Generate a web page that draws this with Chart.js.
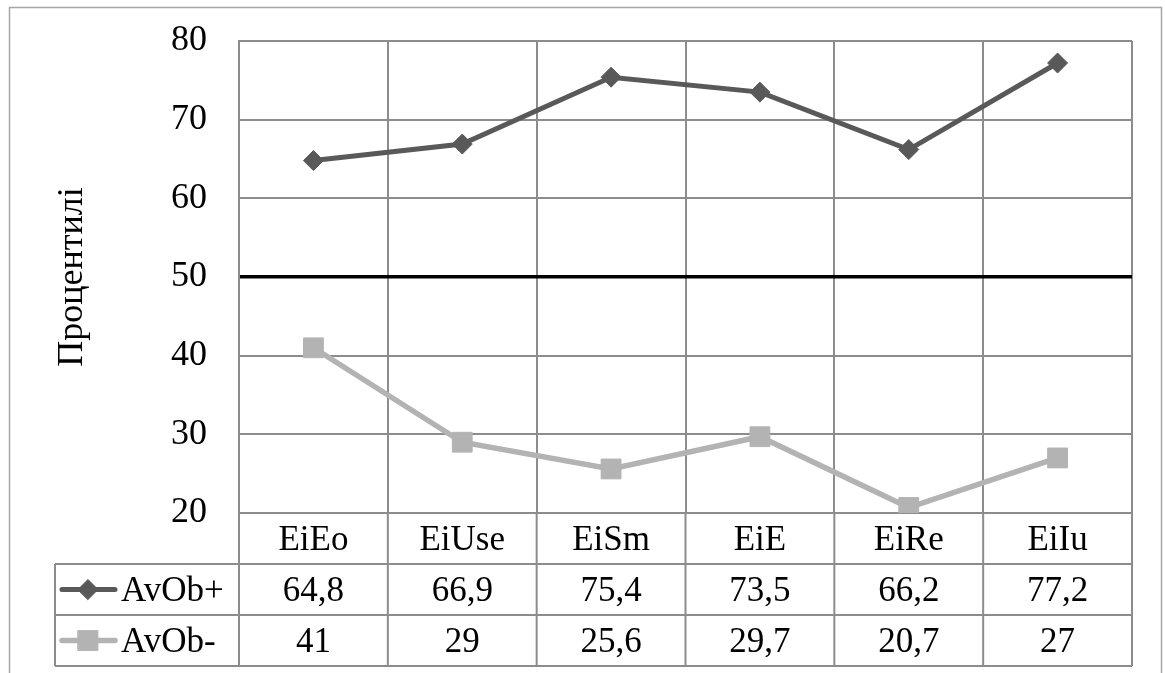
<!DOCTYPE html>
<html>
<head>
<meta charset="utf-8">
<script src="https://cdn.jsdelivr.net/npm/chart.js@4.4.0/dist/chart.umd.min.js"></script>
<style>
html, body { margin: 0; padding: 0; background: #fff; }
#wrap { width: 1165px; height: 673px; }
</style>
</head>
<body>
<div id="wrap"><canvas id="chart" width="1165" height="673"></canvas></div>
<script>
var categories = ['EiEo', 'EiUse', 'EiSm', 'EiE', 'EiRe', 'EiIu'];
var seriesNames = ['AvOb+', 'AvOb-'];
var avObPlus = [64.8, 66.9, 75.4, 73.5, 66.2, 77.2];
var avObMinus = [41, 29, 25.6, 29.7, 20.7, 27];
var yMin = 20, yMax = 80, yStep = 10;
var refLevel = 50;
var yTitle = 'Процентилі';

var FONT = '"Liberation Serif", "Times New Roman", serif';
var GRID = '#8c8c8c';

function fmt(v) {
    return String(v).replace('.', ',');
}

// outer frame of the chart object
var framePlugin = {
    id: 'frame',
    beforeDraw: function(chart) {
        var c = chart.ctx;
        c.save();
        c.strokeStyle = '#a6a6a6';
        c.lineWidth = 1.5;
        c.strokeRect(9.5, 7.5, 1152, 720);
        c.restore();
    }
};

// data table under the plot (categories + values + legend keys)
var tablePlugin = {
    id: 'dataTable',
    afterDraw: function(chart) {
        var c = chart.ctx;
        var area = chart.chartArea;
        var xs = chart.scales.x;
        var colW = area.width / categories.length;
        var rowH = 51;
        var top = area.bottom;
        var bottom = top + rowH * 3;
        var legendLeft = 55;

        c.save();
        c.strokeStyle = GRID;
        c.lineWidth = 2;
        c.beginPath();
        for (var i = 0; i <= categories.length; i++) {
            var x = area.left + i * colW;
            c.moveTo(x, top);
            c.lineTo(x, bottom);
        }
        for (var r = 1; r <= 3; r++) {
            c.moveTo(legendLeft, top + r * rowH);
            c.lineTo(area.right, top + r * rowH);
        }
        c.moveTo(legendLeft, top + rowH);
        c.lineTo(legendLeft, bottom);
        c.stroke();

        c.fillStyle = '#000';
        c.font = '35px ' + FONT;
        c.textAlign = 'center';
        c.textBaseline = 'middle';
        categories.forEach(function(cat, i) {
            var cx = xs.getPixelForValue(i);
            c.fillText(cat, cx, top + rowH / 2 + 2);
            chart.data.datasets.forEach(function(ds, d) {
                c.fillText(fmt(ds.data[i]), cx, top + rowH * (d + 1.5) + 2);
            });
        });

        chart.data.datasets.forEach(function(ds, d) {
            var cy = top + rowH * (d + 1.5);
            c.strokeStyle = ds.borderColor;
            c.lineWidth = ds.borderWidth;
            c.lineCap = 'round';
            c.beginPath();
            c.moveTo(62, cy);
            c.lineTo(115, cy);
            c.stroke();
            c.fillStyle = ds.backgroundColor;
            c.lineWidth = 1;
            Chart.helpers.drawPoint(c, { pointStyle: ds.pointStyle, radius: ds.pointRadius, rotation: 0, borderWidth: 1 }, 88, cy);
            c.fillStyle = '#000';
            c.textAlign = 'left';
            c.fillText(ds.label, 121, cy + 2);
        });
        c.restore();
    }
};

Chart.defaults.font.family = FONT;
Chart.defaults.color = '#000';

var config = {
    type: 'line',
    data: {
        labels: categories,
        datasets: [{
            label: seriesNames[0],
            data: avObPlus,
            borderColor: '#595959',
            backgroundColor: '#595959',
            borderWidth: 5,
            pointStyle: 'rectRot',
            pointRadius: 10,
            pointBorderWidth: 1,
            tension: 0
        }, {
            label: seriesNames[1],
            data: avObMinus,
            borderColor: '#b3b3b3',
            backgroundColor: '#b3b3b3',
            borderWidth: 5.5,
            pointStyle: 'rect',
            pointRadius: 14,
            pointBorderWidth: 1,
            tension: 0
        }]
    },
    options: {
        responsive: false,
        animation: false,
        layout: {
            padding: { left: 0, top: 41, right: 33, bottom: 160 }
        },
        plugins: {
            legend: { display: false },
            tooltip: { enabled: false },
            title: { display: false }
        },
        scales: {
            x: {
                offset: true,
                grid: { offset: true, color: GRID, lineWidth: 2, drawTicks: false },
                border: { color: GRID, width: 2 },
                ticks: { display: false }
            },
            y: {
                min: yMin,
                max: yMax,
                afterFit: function(scale) {
                    scale.width = 239;
                    scale.paddingTop = 0;
                    scale.paddingBottom = 0;
                },
                ticks: {
                    stepSize: yStep,
                    padding: 32,
                    font: { size: 36 },
                    color: '#000'
                },
                grid: {
                    drawTicks: false,
                    color: function(ctx) { return ctx.tick && ctx.tick.value === refLevel ? '#000' : GRID; },
                    lineWidth: function(ctx) { return ctx.tick && ctx.tick.value === refLevel ? 3.5 : 2; }
                },
                border: { color: GRID, width: 2 },
                title: {
                    display: true,
                    text: yTitle,
                    font: { size: 36 },
                    color: '#000',
                    padding: { top: 51, bottom: 0 }
                }
            }
        }
    },
    plugins: [framePlugin, tablePlugin]
};

window.onload = function() {
    var ctx = document.getElementById('chart').getContext('2d');
    window.myLine = new Chart(ctx, config);
};
</script>
</body>
</html>
